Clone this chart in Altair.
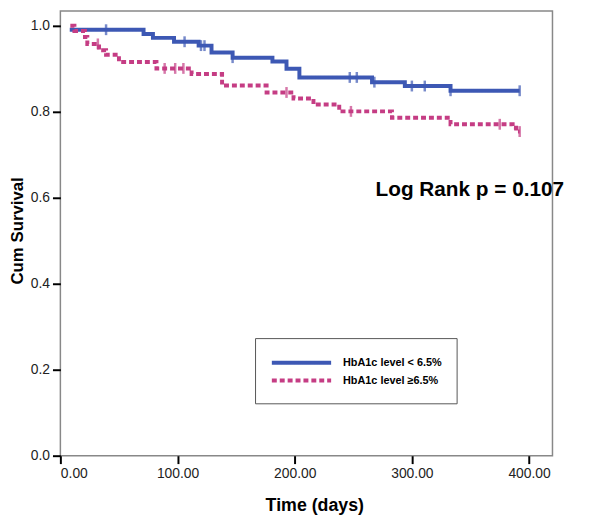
import altair as alt
import pandas as pd

# ---- data ----
groups = ["HbA1c level < 6.5%", "HbA1c level \u22656.5%"]
colors = ["#3D58B4", "#C53D84"]

# step points (time in days, cumulative survival)
blue_t = [8, 71, 79, 97, 118, 129, 147, 181, 193, 204, 266, 294, 333, 392]
blue_s = [0.991, 0.981, 0.972, 0.963, 0.954, 0.938, 0.926, 0.917, 0.900, 0.880, 0.869, 0.860, 0.849, 0.849]
blue_ct = [39, 106, 120, 123, 147, 247, 253, 268, 300, 311, 333, 392]
blue_cs = [0.991, 0.963, 0.954, 0.954, 0.926, 0.880, 0.880, 0.869, 0.860, 0.860, 0.849, 0.849]

mag_t = [8.5, 12, 21, 23, 33, 39, 50, 82, 112, 138, 176, 199, 216, 238, 283, 333, 386, 389, 392]
mag_s = [1.0, 0.988, 0.974, 0.958, 0.943, 0.933, 0.916, 0.901, 0.888, 0.861, 0.845, 0.831, 0.817, 0.801, 0.786, 0.771, 0.763, 0.754, 0.754]
mag_ct = [32, 89, 98, 105, 193, 248, 375, 392]
mag_cs = [0.958, 0.901, 0.901, 0.901, 0.845, 0.801, 0.771, 0.754]

x_ticks = [0, 100, 200, 300, 400]
y_ticks = [0.0, 0.2, 0.4, 0.6, 0.8, 1.0]

annot_text = ["Log Rank p = 0.107"]
annot_x = [269]
annot_y = [0.605]

steps = pd.concat([
    pd.DataFrame({"t": blue_t, "s": blue_s, "g": groups[0]}),
    pd.DataFrame({"t": mag_t, "s": mag_s, "g": groups[1]}),
])
cens = pd.concat([
    pd.DataFrame({"t": blue_ct, "s": blue_cs, "g": groups[0]}),
    pd.DataFrame({"t": mag_ct, "s": mag_cs, "g": groups[1]}),
])
annot = pd.DataFrame({"t": annot_x, "s": annot_y, "label": annot_text})

FONT = "Liberation Sans"

xscale = alt.Scale(domain=[0, 420], nice=False, zero=False)
yscale = alt.Scale(domain=[0, 1.0345], nice=False)

x_enc = alt.X("t:Q", scale=xscale,
              axis=alt.Axis(values=x_ticks, format=".2f", title="Time (days)",
                            grid=False, domain=False, tickSize=8, tickWidth=2,
                            tickColor="#000", labelFontSize=14, labelFont=FONT,
                            labelColor="#222", labelPadding=3,
                            titleFont=FONT, titleFontSize=18, titleFontWeight="bold",
                            titleColor="#000", titlePadding=16, titleX=257))
y_enc = alt.Y("s:Q", scale=yscale,
              axis=alt.Axis(values=y_ticks, format=".1f", title="Cum Survival",
                            grid=False, domain=False, tickSize=8, tickWidth=2,
                            tickColor="#000", labelFontSize=14, labelFont=FONT,
                            labelColor="#222", labelPadding=3,
                            titleFont=FONT, titleFontSize=17, titleFontWeight="bold",
                            titleColor="#000", titleAngle=-90, titleBaseline="bottom",
                            titleX=-34, titleY=222, titleAlign="center"))

legend = alt.Legend(title=None, orient="none", legendX=197, legendY=331,
                    strokeColor="#555", padding=15,
                    symbolType="M-3.75,0H3.75", symbolSize=256, symbolOffset=22,
                    symbolStrokeWidth=4, labelFont=FONT,
                    labelFontSize=11, labelFontWeight="bold", labelColor="#000",
                    rowPadding=0, labelOffset=32, fillColor="white")

color_enc = alt.Color("g:N", scale=alt.Scale(domain=groups, range=colors), legend=legend)
dash_enc = alt.StrokeDash("g:N", scale=alt.Scale(domain=groups, range=[[1, 0], [5, 3]]), legend=legend)

lines = alt.Chart(steps).mark_line(interpolate="step-after", strokeWidth=4).encode(
    x=x_enc, y=y_enc, color=color_enc, strokeDash=dash_enc, detail="g:N"
)

ticks = alt.Chart(cens).mark_tick(orient="vertical", size=11, thickness=2.5).encode(
    x=alt.X("t:Q", scale=xscale), y=alt.Y("s:Q", scale=yscale),
    color=alt.Color("g:N", scale=alt.Scale(domain=groups, range=colors), legend=None)
)

text = alt.Chart(annot).mark_text(align="left", baseline="alphabetic", font=FONT,
                                  fontSize=21, fontWeight="bold", color="#000").encode(
    x=alt.X("t:Q", scale=xscale), y=alt.Y("s:Q", scale=yscale), text="label:N"
)

chart = alt.layer(lines, ticks, text).properties(
    width=498, height=450,
    autosize=alt.AutoSizeParams(type="none"),
    padding={"left": 53, "top": 0, "right": 40, "bottom": 60},
).configure_view(stroke="#888", strokeWidth=1.5)

chart.save("out.html", embed_options={"renderer": "svg", "actions": False})
